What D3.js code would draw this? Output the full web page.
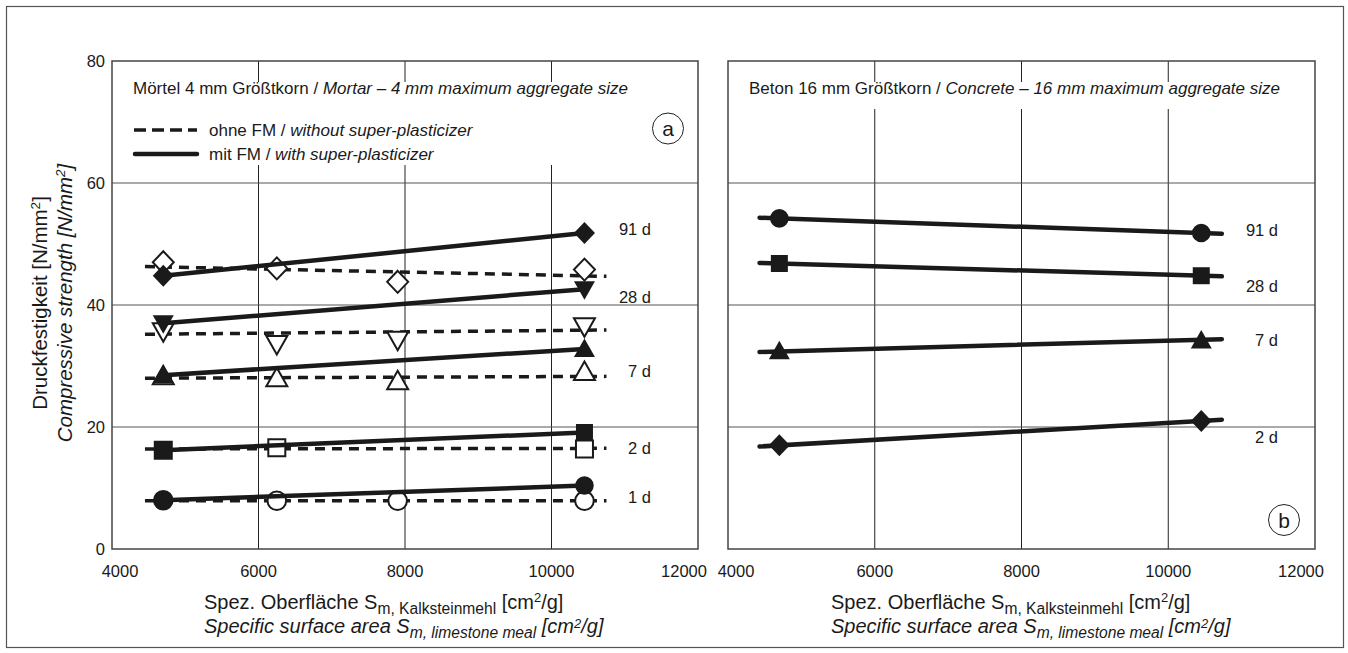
<!DOCTYPE html>
<html>
<head>
<meta charset="utf-8">
<script src="https://cdn.jsdelivr.net/npm/d3@7"></script>
<style>
  body { margin: 0; background: #fff; }
  svg { display: block; font-family: "Liberation Sans", Arial, Helvetica, sans-serif; }
</style>
</head>
<body>
<svg id="chart" width="1348" height="653"></svg>
<script>
// x positions (specific surface, cm2/g)
var xWithout = [4700, 6250, 7900, 10450];
var xWith = [4700, 10450];
var xFitDashed = [4450, 10750];
var xFitB = [4430, 10730];

var ages = ['1 d', '2 d', '7 d', '28 d', '91 d'];
var symA = ['circle', 'square', 'triangle', 'triangleDown', 'diamond'];

// mortar without super-plasticizer (open markers), null = no marker
var mortarWithout = [
    [8.0, 7.9, 7.9, 7.9],
    [16.2, 16.6, null, 16.4],
    [28.3, 28.0, 27.5, 29.0],
    [35.7, 33.6, 34.3, 36.5],
    [47.0, 46.0, 43.8, 45.8]
];
// dashed fit lines, ends at xFitDashed
var mortarWithoutFit = [
    [7.9, 7.9],
    [16.4, 16.5],
    [28.0, 28.3],
    [35.2, 35.9],
    [46.3, 44.7]
];
// mortar with super-plasticizer (filled markers)
var mortarWith = [
    [8.0, 10.4],
    [16.2, 19.1],
    [28.5, 32.8],
    [37.0, 42.6],
    [44.8, 51.8]
];
var labelsA = [8.6, 16.5, 29.1, 41.3, 52.4];

// concrete (panel b)
var agesB = ['2 d', '7 d', '28 d', '91 d'];
var symB = ['diamond', 'triangle', 'square', 'circle'];
var concrete = [
    [17.0, 21.0],
    [32.4, 34.2],
    [46.8, 44.8],
    [54.2, 51.8]
];
var concreteFit = [
    [16.8, 21.2],
    [32.3, 34.4],
    [46.9, 44.7],
    [54.3, 51.7]
];
var labelsB = [18.4, 34.3, 43.1, 52.3];

var xTicks = [4000, 6000, 8000, 10000, 12000];
var yTicks = [0, 20, 40, 60, 80];

var svg = d3.select('#chart');
var ink = '#1a1a1a';

svg.append('rect')
    .attr('x', 6.5).attr('y', 6.5)
    .attr('width', 1337).attr('height', 641)
    .attr('fill', 'none').attr('stroke', '#555').attr('stroke-width', 1.2);

var y = d3.scaleLinear().domain([0, 80]).range([549, 61]);

function symbolPath(type) {
    switch(type) {
    case 'circle':
        return d3.symbol(d3.symbolCircle, Math.PI * 9.3 * 9.3)();
    case 'square':
        return d3.symbol(d3.symbolSquare, 17 * 17)();
    case 'diamond':
        return 'M0,-11L10.5,0L0,11L-10.5,0Z';
    case 'triangle':
        return 'M0,-10.5L10.5,8L-10.5,8Z';
    case 'triangleDown':
        return 'M0,10.5L10.5,-8L-10.5,-8Z';
    }
}

function addTitle(g, x, yy, size, italic, main, sub, supDy) {
    var t = g.append('text').attr('x', x).attr('y', yy)
        .attr('font-size', size).attr('fill', ink);
    if(italic) t.attr('font-style', 'italic');
    t.append('tspan').text(main);
    t.append('tspan').attr('dy', 5).attr('font-size', size * 0.78).text(sub);
    t.append('tspan').attr('dy', -5).text(' [cm');
    t.append('tspan').attr('dy', -supDy).attr('font-size', size * 0.65).text('2');
    t.append('tspan').attr('dy', supDy).text('/g]');
}

function makePanel(x0, x1, titleX) {
    var x = d3.scaleLinear().domain([4000, 12000]).range([x0, x1]);
    var g = svg.append('g');

    // grid
    g.selectAll('line.vgrid')
        .data(xTicks.slice(1, -1))
      .enter().append('line')
        .attr('x1', function(d) { return x(d); })
        .attr('x2', function(d) { return x(d); })
        .attr('y1', y(0)).attr('y2', y(80))
        .attr('stroke', '#222').attr('stroke-width', 1);
    g.selectAll('line.hgrid')
        .data(yTicks.slice(1, -1))
      .enter().append('line')
        .attr('x1', x0).attr('x2', x1)
        .attr('y1', function(d) { return y(d); })
        .attr('y2', function(d) { return y(d); })
        .attr('stroke', '#555').attr('stroke-width', 1);

    g.append('rect')
        .attr('x', x0).attr('y', y(80))
        .attr('width', x1 - x0).attr('height', y(0) - y(80))
        .attr('fill', 'none').attr('stroke', '#444').attr('stroke-width', 1.5);

    // x tick labels, end labels pulled inward
    g.selectAll('text.xtick')
        .data(xTicks)
      .enter().append('text')
        .attr('x', function(d, i) {
            return x(d) + (i === 0 ? 8 : (i === xTicks.length - 1 ? -14 : 0));
        })
        .attr('y', 577)
        .attr('text-anchor', 'middle')
        .attr('font-size', 16.5)
        .attr('fill', ink)
        .text(function(d) { return d; });

    addTitle(g, titleX, 609, 20, false, 'Spez. Oberfläche S', 'm, Kalksteinmehl', 7);
    addTitle(g, titleX, 633, 20, true, 'Specific surface area S', 'm, limestone meal', 5);

    return {g: g, x: x};
}

// y tick labels
svg.selectAll('text.ytick')
    .data(yTicks)
  .enter().append('text')
    .attr('x', 105).attr('y', function(d) { return y(d) + 6; })
    .attr('text-anchor', 'end')
    .attr('font-size', 16.5).attr('fill', ink)
    .text(function(d) { return d; });

// y axis titles
function addYTitle(xx, italic, txt) {
    var t = svg.append('text')
        .attr('transform', 'translate(' + xx + ',303) rotate(-90)')
        .attr('text-anchor', 'middle').attr('font-size', 20.5).attr('fill', ink);
    if(italic) t.attr('font-style', 'italic');
    t.append('tspan').text(txt);
    t.append('tspan').attr('dy', -7).attr('font-size', 13.5).text('2');
    t.append('tspan').attr('dy', 7).text(']');
}
addYTitle(47, false, 'Druckfestigkeit [N/mm');
addYTitle(72, true, 'Compressive strength [N/mm');

// ---- panel a: mortar
var pa = makePanel(112, 698, 204);
var ga = pa.g, xa = pa.x;

// white box behind title and legend interrupts the grid
ga.append('rect')
    .attr('x', 122).attr('y', 82).attr('width', 520).attr('height', 83)
    .attr('fill', '#fff');

var tA = ga.append('text').attr('x', 133).attr('y', 94)
    .attr('font-size', 17).attr('fill', ink);
tA.append('tspan').text('Mörtel 4 mm Größtkorn / ');
tA.append('tspan').attr('font-style', 'italic').text('Mortar – 4 mm maximum aggregate size');

// legend
ga.append('line')
    .attr('x1', 134).attr('x2', 197).attr('y1', 130).attr('y2', 130)
    .attr('stroke', ink).attr('stroke-width', 3.5)
    .attr('stroke-dasharray', '12,6');
ga.append('line')
    .attr('x1', 135).attr('x2', 197).attr('y1', 154).attr('y2', 154)
    .attr('stroke', ink).attr('stroke-width', 4.5)
    .attr('stroke-linecap', 'round');
var l1 = ga.append('text').attr('x', 209).attr('y', 136)
    .attr('font-size', 17).attr('fill', ink);
l1.append('tspan').text('ohne FM / ');
l1.append('tspan').attr('font-style', 'italic').text('without super-plasticizer');
var l2 = ga.append('text').attr('x', 209).attr('y', 160)
    .attr('font-size', 17).attr('fill', ink);
l2.append('tspan').text('mit FM / ');
l2.append('tspan').attr('font-style', 'italic').text('with super-plasticizer');

ga.append('circle').attr('cx', 668).attr('cy', 128.5).attr('r', 15.5)
    .attr('fill', '#fff').attr('stroke', '#222').attr('stroke-width', 1);
ga.append('text').attr('x', 668).attr('y', 136).attr('text-anchor', 'middle')
    .attr('font-size', 21).attr('fill', ink).text('a');

// dashed fits
ga.selectAll('line.fitw')
    .data(mortarWithoutFit)
  .enter().append('line')
    .attr('x1', xa(xFitDashed[0])).attr('x2', xa(xFitDashed[1]))
    .attr('y1', function(d) { return y(d[0]); })
    .attr('y2', function(d) { return y(d[1]); })
    .attr('stroke', ink).attr('stroke-width', 3.5)
    .attr('stroke-dasharray', '10,7');

// open markers
mortarWithout.forEach(function(vals, i) {
    ga.selectAll(null)
        .data(vals.map(function(v, j) { return {x: xWithout[j], v: v}; })
            .filter(function(d) { return d.v !== null; }))
      .enter().append('path')
        .attr('transform', function(d) { return 'translate(' + xa(d.x) + ',' + y(d.v) + ')'; })
        .attr('d', symbolPath(symA[i]))
        .attr('fill', '#fff').attr('stroke', ink).attr('stroke-width', 2);
});

// solid lines + filled markers
ga.selectAll('line.fit')
    .data(mortarWith)
  .enter().append('line')
    .attr('x1', xa(xWith[0])).attr('x2', xa(xWith[1]))
    .attr('y1', function(d) { return y(d[0]); })
    .attr('y2', function(d) { return y(d[1]); })
    .attr('stroke', ink).attr('stroke-width', 4.5);
mortarWith.forEach(function(vals, i) {
    ga.selectAll(null)
        .data(vals)
      .enter().append('path')
        .attr('transform', function(d, j) { return 'translate(' + xa(xWith[j]) + ',' + y(d) + ')'; })
        .attr('d', symbolPath(symA[i]))
        .attr('fill', ink);
});

ga.selectAll('text.age')
    .data(ages)
  .enter().append('text')
    .attr('x', 651).attr('y', function(d, i) { return y(labelsA[i]) + 6; })
    .attr('text-anchor', 'end')
    .attr('font-size', 16.5).attr('fill', ink)
    .text(function(d) { return d; });

// ---- panel b: concrete
var pb = makePanel(728, 1315, 831);
var gb = pb.g, xb = pb.x;

gb.append('rect')
    .attr('x', 738).attr('y', 82).attr('width', 566).attr('height', 27)
    .attr('fill', '#fff');
var tB = gb.append('text').attr('x', 749).attr('y', 94)
    .attr('font-size', 17).attr('fill', ink);
tB.append('tspan').text('Beton 16 mm Größtkorn / ');
tB.append('tspan').attr('font-style', 'italic').text('Concrete – 16 mm maximum aggregate size');

gb.append('circle').attr('cx', 1284).attr('cy', 520).attr('r', 15.5)
    .attr('fill', '#fff').attr('stroke', '#222').attr('stroke-width', 1);
gb.append('text').attr('x', 1284).attr('y', 527.5).attr('text-anchor', 'middle')
    .attr('font-size', 21).attr('fill', ink).text('b');

gb.selectAll('line.fitb')
    .data(concreteFit)
  .enter().append('line')
    .attr('x1', xb(xFitB[0])).attr('x2', xb(xFitB[1]))
    .attr('y1', function(d) { return y(d[0]); })
    .attr('y2', function(d) { return y(d[1]); })
    .attr('stroke', ink).attr('stroke-width', 4.5)
    .attr('stroke-linecap', 'round');
concrete.forEach(function(vals, i) {
    gb.selectAll(null)
        .data(vals)
      .enter().append('path')
        .attr('transform', function(d, j) { return 'translate(' + xb(xWith[j]) + ',' + y(d) + ')'; })
        .attr('d', symbolPath(symB[i]))
        .attr('fill', ink);
});
gb.selectAll('text.age')
    .data(agesB)
  .enter().append('text')
    .attr('x', 1278).attr('y', function(d, i) { return y(labelsB[i]) + 6; })
    .attr('text-anchor', 'end')
    .attr('font-size', 16.5).attr('fill', ink)
    .text(function(d) { return d; });
</script>
</body>
</html>
